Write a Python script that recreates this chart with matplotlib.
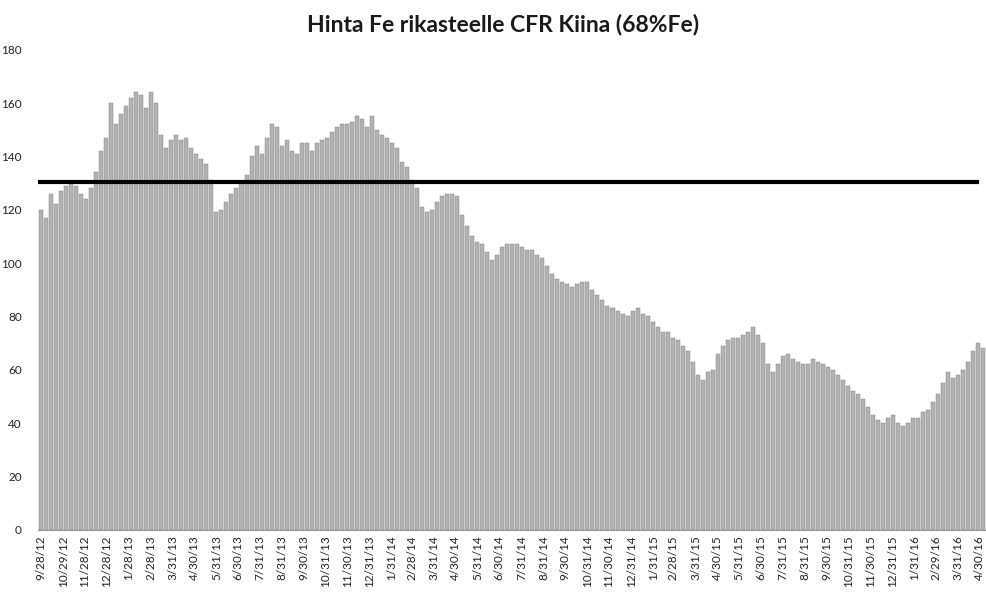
import matplotlib
matplotlib.use("Agg")
import matplotlib.pyplot as plt
import numpy as np
import pandas as pd

plt.rcParams["font.family"] = ["Lato", "DejaVu Sans"]

# weekly price, USD/t, first week 9/28/12
start_date = "2012-09-28"
prices = [
    120, 117, 126, 122, 127, 129, 130, 129, 126, 124,
    128, 134, 142, 147, 160, 152, 156, 159, 162, 164,
    163, 158, 164, 160, 148, 143, 146, 148, 146, 147,
    143, 141, 139, 137, 131, 119, 120, 123, 126, 128,
    130, 133, 140, 144, 141, 147, 152, 151, 144, 146,
    142, 141, 145, 145, 142, 145, 146, 147, 149, 151,
    152, 152, 153, 155, 154, 151, 155, 150, 148, 147,
    145, 143, 138, 136, 131, 128, 121, 119, 120, 123,
    125, 126, 126, 125, 118, 114, 110, 108, 107, 104,
    101, 103, 106, 107, 107, 107, 106, 105, 105, 103,
    102, 99, 96, 94, 93, 92, 91, 92, 93, 93,
    90, 88, 86, 84, 83, 82, 81, 80, 82, 83,
    81, 80, 78, 76, 74, 74, 72, 71, 69, 67,
    63, 58, 56, 59, 60, 66, 69, 71, 72, 72,
    73, 74, 76, 73, 70, 62, 59, 62, 65, 66,
    64, 63, 62, 62, 64, 63, 62, 61, 60, 58,
    56, 54, 52, 51, 49, 46, 43, 41, 40, 42,
    43, 40, 39, 40, 42, 42, 44, 45, 48, 51,
    55, 59, 57, 58, 60, 63, 67, 70, 68,
]
target_level = 130.5

tick_labels = [
    "9/28/12", "10/29/12", "11/28/12", "12/28/12",
    "1/28/13", "2/28/13", "3/31/13", "4/30/13", "5/31/13", "6/30/13",
    "7/31/13", "8/31/13", "9/30/13", "10/31/13", "11/30/13", "12/31/13",
    "1/31/14", "2/28/14", "3/31/14", "4/30/14", "5/31/14", "6/30/14",
    "7/31/14", "8/31/14", "9/30/14", "10/31/14", "11/30/14", "12/31/14",
    "1/31/15", "2/28/15", "3/31/15", "4/30/15", "5/31/15", "6/30/15",
    "7/31/15", "8/31/15", "9/30/15", "10/31/15", "11/30/15", "12/31/15",
    "1/31/16", "2/29/16", "3/31/16", "4/30/16",
]

dates = pd.date_range(start_date, periods=len(prices), freq="7D")
tick_dates = pd.to_datetime(tick_labels, format="%m/%d/%y")

fig = plt.figure(figsize=(9.86, 5.92), dpi=100)
ax = fig.add_axes([0.039, 0.105, 0.961, 0.811])

ax.bar(dates, prices, width=5.6, color="#b3b3b3", edgecolor="#7a7a7a",
       linewidth=0.3, zorder=2)
ax.axhline(target_level, xmin=0, xmax=0.99, color="black", linewidth=3, zorder=3)

ax.set_xlim(dates[0] - pd.Timedelta(days=3.5), dates[-1] + pd.Timedelta(days=3.5))
ax.set_ylim(0, 180)
ax.set_yticks(np.arange(0, 181, 20))
ax.set_xticks(tick_dates)
ax.set_xticklabels(tick_labels, rotation=90, fontsize=8.5, color="#222222")
ax.tick_params(axis="y", length=0, pad=12, labelsize=8.5, labelcolor="#222222")
ax.tick_params(axis="x", length=0, pad=4)

for side in ["top", "right", "left"]:
    ax.spines[side].set_visible(False)
ax.spines["bottom"].set_color("#999999")
ax.spines["bottom"].set_linewidth(0.8)

fig.text(0.51, 0.958, "Hinta Fe rikasteelle CFR Kiina (68%Fe)", ha="center",
         va="center", fontsize=16.5, fontweight="bold", color="#1a1a1a")

fig.savefig("out.png", dpi=100)
